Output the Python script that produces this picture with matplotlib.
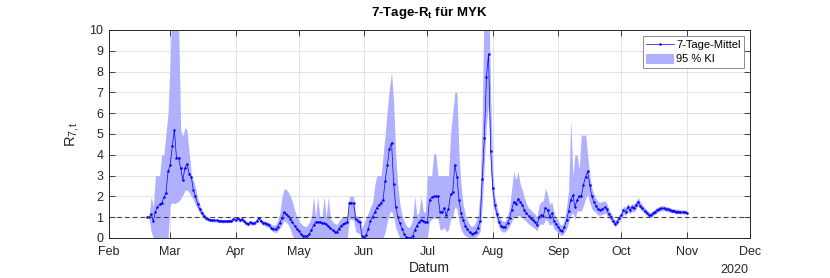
import numpy as np
import pandas as pd
import matplotlib
matplotlib.use("Agg")
import matplotlib.pyplot as plt

plt.rcParams['font.family'] = ['Liberation Sans', 'DejaVu Sans']
plt.rcParams['mathtext.fontset'] = 'custom'
plt.rcParams['mathtext.rm'] = 'Liberation Sans'
plt.rcParams['mathtext.it'] = 'Liberation Sans:italic'
plt.rcParams['mathtext.bf'] = 'Liberation Sans:bold'

start_date = "2020-02-19"

# 7-day mean R (daily, Feb 19 .. Nov 1)
r_mean = [
    # Feb 19-29
    1.00, 1.00, 1.15, 0.80, 1.25, 1.50, 1.62, 1.68, 1.95, 2.15, 3.20,
    # Mar
    3.50, 4.40, 5.20, 3.85, 3.85, 3.35, 2.80, 3.35, 3.55, 3.10, 2.95, 2.30, 2.00, 1.65, 1.40, 1.20,
    1.05, 0.95, 0.90, 0.87, 0.85, 0.85, 0.85, 0.82, 0.83, 0.80, 0.82, 0.80, 0.83, 0.82, 0.90,
    # Apr
    0.88, 0.95, 0.85, 0.90, 0.80, 0.72, 0.68, 0.75, 0.70, 0.72, 0.80, 0.95, 0.82, 0.72, 0.70,
    0.65, 0.62, 0.50, 0.45, 0.42, 0.55, 0.72, 0.95, 1.25, 1.15, 1.05, 0.92, 0.75, 0.60, 0.45,
    # May
    0.32, 0.20, 0.12, 0.08, 0.10, 0.20, 0.38, 0.62, 0.76, 0.78, 0.76, 0.74, 0.70, 0.65, 0.56, 0.48,
    0.38, 0.30, 0.27, 0.45, 0.60, 0.67, 0.72, 0.75, 1.70, 1.70, 1.68, 0.90, 0.80, 0.75, 0.08,
    # Jun
    0.06, 0.15, 0.45, 0.84, 1.03, 1.24, 1.45, 1.60, 1.70, 1.85, 2.76, 3.50, 4.30, 4.58, 2.60,
    1.50, 1.00, 0.70, 0.45, 0.20, 0.05, 0.00, 0.02, 0.10, 0.37, 0.60, 0.75, 0.87, 0.84, 0.75,
    # Jul
    0.78, 1.83, 1.95, 2.00, 2.00, 2.02, 1.25, 1.25, 1.42, 1.12, 1.40, 2.10, 2.20, 3.50, 2.95, 1.83,
    1.20, 0.85, 0.60, 0.42, 0.27, 0.20, 0.22, 0.30, 0.50, 0.80, 2.84, 4.82, 7.72, 8.85, 4.20,
    # Aug
    2.39, 1.59, 1.15, 0.78, 0.58, 0.51, 0.54, 0.73, 0.97, 1.35, 1.75, 1.62, 1.86, 1.75, 1.59, 1.35,
    1.19, 1.06, 0.94, 0.86, 0.78, 0.62, 1.02, 1.10, 1.07, 1.46, 1.35, 1.02, 1.19, 0.82, 0.66,
    # Sep
    0.54, 0.38, 0.34, 0.54, 0.85, 1.30, 1.85, 2.05, 1.50, 1.83, 2.00, 2.00, 2.55, 2.95, 3.20,
    2.55, 2.00, 1.75, 1.54, 1.38, 1.35, 1.38, 1.47, 1.38, 1.15, 1.00, 0.84, 0.68, 0.78, 0.95,
    # Oct
    1.10, 1.35, 1.27, 1.47, 1.35, 1.47, 1.43, 1.59, 1.75, 1.54, 1.43, 1.31, 1.22, 1.10, 1.10, 1.19,
    1.27, 1.35, 1.39, 1.43, 1.43, 1.39, 1.38, 1.35, 1.31, 1.31, 1.27, 1.27, 1.25, 1.25, 1.24,
    # Nov 1
    1.22,
]

# lower bound of 95 % interval
ci_low = [
    0.98, 0.95, 0.30, 0.00, 0.00, 0.00, 0.00, 0.00, 0.00, 0.00, 0.00,
    1.60, 1.70, 1.65, 1.70, 1.75, 1.90, 2.05, 2.30, 2.30, 2.20, 2.00, 1.85, 1.60, 1.40, 1.20, 1.05,
    0.93, 0.85, 0.81, 0.79, 0.77, 0.77, 0.77, 0.74, 0.75, 0.72, 0.74, 0.72, 0.75, 0.74, 0.82,
    0.80, 0.86, 0.76, 0.81, 0.71, 0.63, 0.59, 0.66, 0.61, 0.62, 0.70, 0.84, 0.71, 0.61, 0.58,
    0.53, 0.49, 0.36, 0.30, 0.25, 0.35, 0.45, 0.62, 0.84, 0.75, 0.65, 0.42, 0.10, 0.00, 0.00,
    0.00, 0.00, 0.00, 0.00, 0.00, 0.00, 0.00, 0.00, 0.00, 0.00, 0.00, 0.00, 0.00, 0.00, 0.00, 0.00,
    0.00, 0.00, 0.00, 0.00, 0.00, 0.00, 0.00, 0.00, 0.90, 0.90, 0.85, 0.30, 0.25, 0.20, 0.00,
    0.00, 0.00, 0.00, 0.00, 0.00, 0.00, 0.00, 0.00, 0.00, 0.00, 0.30, 0.80, 1.20, 1.30, 1.00,
    0.50, 0.20, 0.00, 0.00, 0.00, 0.00, 0.00, 0.00, 0.00, 0.00, 0.00, 0.00, 0.00, 0.00, 0.00,
    0.00, 0.80, 0.90, 0.95, 0.95, 0.95, 0.40, 0.40, 0.50, 0.30, 0.40, 0.90, 1.00, 1.50, 1.40, 0.80,
    0.40, 0.20, 0.10, 0.05, 0.02, 0.00, 0.00, 0.05, 0.15, 0.30, 1.50, 3.50, 5.50, 6.50, 3.20,
    1.75, 1.20, 0.80, 0.50, 0.32, 0.28, 0.30, 0.42, 0.58, 0.80, 1.00, 1.00, 1.10, 1.05, 1.00, 0.88,
    0.78, 0.68, 0.60, 0.52, 0.45, 0.35, 0.62, 0.68, 0.65, 0.90, 0.82, 0.60, 0.70, 0.45, 0.35,
    0.25, 0.15, 0.12, 0.25, 0.45, 0.75, 1.10, 1.20, 0.90, 1.30, 1.30, 1.30, 1.55, 1.90, 2.10,
    1.70, 1.40, 1.30, 1.20, 1.10, 1.10, 1.12, 1.20, 1.12, 0.95, 0.82, 0.68, 0.55, 0.63, 0.79,
    0.93, 1.16, 1.09, 1.27, 1.17, 1.28, 1.25, 1.40, 1.55, 1.37, 1.27, 1.17, 1.09, 0.98, 0.98, 1.07,
    1.15, 1.23, 1.27, 1.31, 1.31, 1.28, 1.27, 1.24, 1.21, 1.21, 1.17, 1.17, 1.16, 1.16, 1.15,
    1.13,
]

# upper bound of 95 % interval
ci_high = [
    1.02, 1.05, 2.00, 1.50, 3.00, 3.00, 3.00, 4.00, 4.00, 5.00, 6.00,
    8.50, 12.0, 12.0, 12.0, 10.5, 5.20, 4.90, 5.30, 5.20, 4.10, 3.10, 2.80, 2.45, 1.95, 1.62, 1.38,
    1.18, 1.06, 1.00, 0.96, 0.94, 0.93, 0.93, 0.90, 0.91, 0.88, 0.90, 0.88, 0.91, 0.90, 0.98,
    0.97, 1.04, 0.94, 0.99, 0.89, 0.81, 0.77, 0.84, 0.80, 0.82, 0.90, 1.06, 0.93, 0.83, 0.82,
    0.77, 0.75, 0.64, 0.62, 0.62, 0.85, 1.20, 1.95, 2.35, 2.35, 2.20, 2.00, 1.75, 1.35, 1.05,
    0.85, 0.70, 0.60, 0.55, 0.60, 0.75, 1.00, 2.00, 1.00, 2.00, 1.00, 1.00, 2.00, 1.00, 2.00, 0.95,
    0.80, 0.70, 0.65, 0.80, 0.95, 1.00, 1.00, 1.05, 2.00, 2.00, 2.00, 1.10, 1.05, 1.00, 0.50,
    0.70, 1.00, 1.20, 1.50, 1.70, 2.50, 3.00, 3.00, 3.00, 4.00, 5.00, 6.20, 7.20, 8.00, 6.50,
    4.00, 2.50, 1.60, 1.10, 0.80, 0.60, 0.50, 0.60, 0.90, 2.00, 1.10, 1.20, 2.00, 1.30, 1.20,
    3.00, 3.00, 3.00, 4.05, 4.05, 3.00, 3.00, 3.00, 3.00, 3.00, 3.00, 5.00, 6.00, 7.00, 7.00, 4.00,
    2.50, 1.60, 1.10, 0.85, 0.65, 0.55, 0.60, 0.80, 1.10, 2.20, 5.75, 12.0, 12.0, 12.0, 7.00,
    3.20, 2.00, 1.50, 1.10, 0.88, 0.80, 0.82, 1.08, 1.50, 2.40, 3.20, 2.80, 3.20, 2.60, 2.30, 1.95,
    1.65, 1.45, 1.35, 1.25, 1.15, 1.00, 1.60, 1.75, 1.80, 2.40, 2.10, 1.60, 1.75, 1.25, 1.00,
    0.85, 0.65, 0.62, 0.90, 1.50, 2.30, 5.70, 3.00, 4.00, 4.00, 3.30, 5.00, 4.90, 5.00, 4.00,
    3.00, 2.40, 2.10, 1.90, 1.75, 1.72, 1.75, 1.80, 1.68, 1.40, 1.22, 1.02, 0.85, 0.95, 1.12,
    1.28, 1.55, 1.46, 1.67, 1.54, 1.66, 1.61, 1.78, 1.95, 1.72, 1.60, 1.46, 1.36, 1.23, 1.23, 1.32,
    1.40, 1.48, 1.52, 1.56, 1.56, 1.51, 1.50, 1.47, 1.42, 1.42, 1.38, 1.38, 1.35, 1.35, 1.34,
    1.32,
]

month_labels = ["Feb", "Mar", "Apr", "May", "Jun", "Jul", "Aug", "Sep", "Oct", "Nov", "Dec"]
y_ticks = list(range(0, 11))

n = min(len(r_mean), len(ci_low), len(ci_high))
dates = pd.date_range(start_date, periods=n, freq="D")
r = np.array(r_mean[:n])
lo = np.array(ci_low[:n])
hi = np.array(ci_high[:n])

dark = "#262626"
fig = plt.figure(figsize=(8.3, 2.78), dpi=100)
ax = fig.add_axes([109 / 830, 40 / 278, 641 / 830, 208 / 278])

band = ax.fill_between(dates, lo, hi, color="#b0b0ff", linewidth=0, label="95 % KI", zorder=2)
line, = ax.plot(dates, r, color="#0000ff", linewidth=0.5, marker=".", markersize=1.6,
                label="7-Tage-Mittel", zorder=3)
ax.axhline(1.0, color="#404040", linestyle=(0, (4, 3)), linewidth=0.8, zorder=4)

ax.set_xlim(pd.Timestamp("2020-02-01"), pd.Timestamp("2020-12-01"))
ax.set_ylim(0, 10)
month_ticks = pd.date_range("2020-02-01", "2020-12-01", freq="MS")
ax.set_xticks(month_ticks)
ax.set_xticklabels(month_labels[:len(month_ticks)])
ax.set_yticks(y_ticks)

ax.grid(True, color="#e3e3e3", linewidth=0.7, zorder=0)
ax.set_axisbelow(True)
for s in ax.spines.values():
    s.set_color(dark)
    s.set_linewidth(0.7)
ax.tick_params(direction="in", length=4, width=0.6, colors=dark, labelsize=9,
               top=True, right=True)
ax.tick_params(axis="x", pad=6)
ax.tick_params(axis="y", pad=4)

ax.set_title(r"7-Tage-R$_\mathbf{t}$ für MYK", fontsize=9.5, fontweight="bold", color="black", pad=10)
ax.set_xlabel("Datum", fontsize=10, color=dark, labelpad=2)
ax.set_ylabel(r"R$_{\mathrm{7,t}}$", fontsize=10.5, color=dark, labelpad=6)
fig.text(748 / 830, 1 - 270 / 278, "2020", ha="right", va="center", fontsize=9, color=dark)

leg = ax.legend(handles=[line, band], labels=["7-Tage-Mittel", "95 % KI"],
                loc="upper right", fontsize=8, frameon=True, fancybox=False,
                edgecolor="#8c8c8c", framealpha=1, handlelength=2.5, handletextpad=0.2,
                handleheight=1.0, borderpad=0.3, labelspacing=0.3, borderaxespad=0.55)
leg.get_frame().set_linewidth(0.7)

fig.savefig("out.png", dpi=100)
